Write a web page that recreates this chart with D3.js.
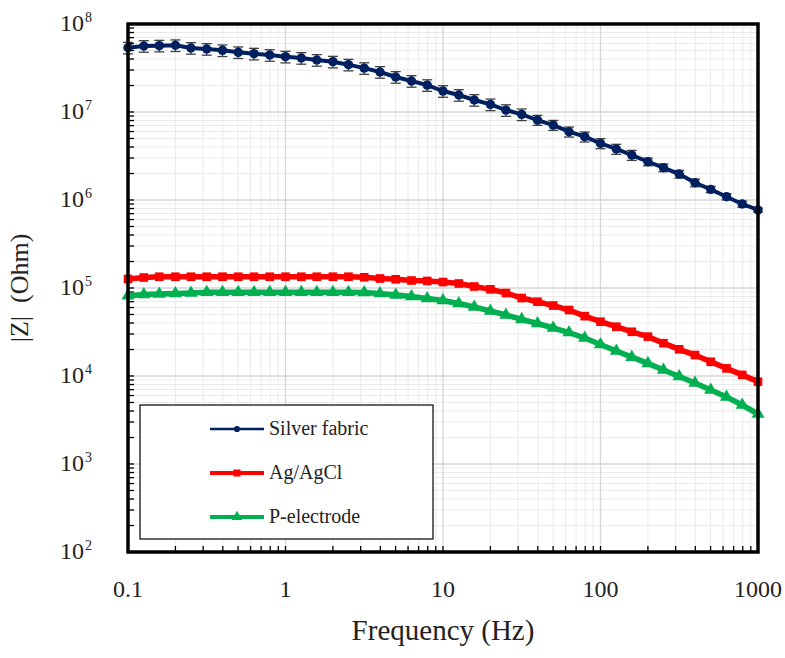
<!DOCTYPE html>
<html><head><meta charset="utf-8">
<script src="https://cdn.jsdelivr.net/npm/d3@7"></script>
<style>body{margin:0;background:#fff}svg{display:block}
svg text{font-family:"Liberation Serif","Times New Roman",serif;}
</style>
</head><body><svg id="c" width="785" height="658"></svg>
<script>
const freqs = [0.1,0.126,0.158,0.2,0.251,0.316,0.398,0.501,0.631,0.794,
  1,1.26,1.58,2,2.51,3.16,3.98,5.01,6.31,7.94,
  10,12.6,15.8,20,25.1,31.6,39.8,50.1,63.1,79.4,
  100,126,158,200,251,316,398,501,631,794,1000];
const silverFabric = [5.38e7,5.62e7,5.67e7,5.73e7,5.34e7,5.20e7,5.02e7,4.77e7,4.60e7,4.44e7,
  4.25e7,4.11e7,3.90e7,3.73e7,3.45e7,3.15e7,2.85e7,2.50e7,2.25e7,2.02e7,
  1.73e7,1.56e7,1.37e7,1.22e7,1.05e7,9.4e6,8.1e6,7.1e6,5.97e6,5.24e6,
  4.40e6,3.80e6,3.24e6,2.72e6,2.33e6,1.97e6,1.57e6,1.32e6,1.09e6,9.0e5,7.7e5];
const silverErrPct = [15,15,15,15,15,15,15,15,15,15,
  15,15,15,15,15,15,15,15,15,15,
  15,15,15,15,15,15,13,13,13,13,
  13,13,13,10,10,10,10,8,8,8,5];
const agAgCl = [1.265e5,1.315e5,1.343e5,1.343e5,1.343e5,1.343e5,1.343e5,1.343e5,1.343e5,1.343e5,
  1.343e5,1.343e5,1.343e5,1.343e5,1.343e5,1.324e5,1.282e5,1.256e5,1.216e5,1.202e5,
  1.169e5,1.125e5,1.040e5,9.66e4,8.77e4,7.69e4,6.98e4,6.32e4,5.62e4,4.79e4,
  4.14e4,3.63e4,3.18e4,2.80e4,2.36e4,2.01e4,1.73e4,1.45e4,1.22e4,1.03e4,8.61e3];
const pElectrode = [8.17e4,8.43e4,8.55e4,8.66e4,8.77e4,8.93e4,8.93e4,8.93e4,8.93e4,8.93e4,
  8.93e4,8.93e4,8.93e4,8.93e4,8.95e4,8.89e4,8.66e4,8.32e4,8.0e4,7.6e4,
  7.21e4,6.67e4,6.08e4,5.48e4,4.93e4,4.39e4,3.95e4,3.51e4,3.12e4,2.70e4,
  2.28e4,1.92e4,1.64e4,1.39e4,1.17e4,9.86e3,8.32e3,6.93e3,5.77e3,4.68e3,3.70e3];
const xTickLabels = ["0.1","1","10","100","1000"];
const xTickValues = [0.1,1,10,100,1000];
const yExponents = [2,3,4,5,6,7,8];
const seriesNames = ["Silver fabric","Ag/AgCl","P-electrode"];
const seriesColors = ["#002060","#ff0000","#00b050"];

const svg = d3.select("#c");
const L=128,R=758,T=24,B=552;
const x = d3.scaleLog().domain([0.1,1000]).range([L,R]);
const y = d3.scaleLog().domain([100,1e8]).range([B,T]);

// grid
const minorX=[], majorX=[];
for (let e=-1;e<3;e++) for (let k=1;k<10;k++){ const v=k*Math.pow(10,e); (k===1?majorX:minorX).push(v);} 
majorX.push(1000);
const minorY=[], majorY=[];
for (let e=2;e<8;e++) for (let k=1;k<10;k++){ const v=k*Math.pow(10,e); (k===1?majorY:minorY).push(v);} 
majorY.push(1e8);
const g = svg.append("g");
g.selectAll(".mx").data(minorX).enter().append("line").attr("x1",d=>x(d)).attr("x2",d=>x(d)).attr("y1",T).attr("y2",B).attr("stroke","#ebebeb").attr("stroke-width",1);
g.selectAll(".my").data(minorY).enter().append("line").attr("y1",d=>y(d)).attr("y2",d=>y(d)).attr("x1",L).attr("x2",R).attr("stroke","#ebebeb").attr("stroke-width",1);
g.selectAll(".Mx").data(majorX).enter().append("line").attr("x1",d=>x(d)).attr("x2",d=>x(d)).attr("y1",T).attr("y2",B).attr("stroke","#d6d6d6").attr("stroke-width",1.3);
g.selectAll(".My").data(majorY).enter().append("line").attr("y1",d=>y(d)).attr("y2",d=>y(d)).attr("x1",L).attr("x2",R).attr("stroke","#d6d6d6").attr("stroke-width",1.3);

// ticks (inward)
g.selectAll(".tx").data(minorX.concat(majorX)).enter().append("line").attr("x1",d=>x(d)).attr("x2",d=>x(d)).attr("y1",B).attr("y2",B-6).attr("stroke","#000").attr("stroke-width",1.3);
g.selectAll(".ty").data(minorY.concat(majorY)).enter().append("line").attr("y1",d=>y(d)).attr("y2",d=>y(d)).attr("x1",L).attr("x2",L+6).attr("stroke","#000").attr("stroke-width",1.3);

// error bars for silver fabric
const eb = svg.append("g").attr("stroke","#404040").attr("stroke-width",1.3);
freqs.forEach((f,i)=>{
  const v=silverFabric[i], e=v*silverErrPct[i]/100;
  const xx=x(f), y1=y(v+e), y2=y(v-e);
  eb.append("line").attr("x1",xx).attr("x2",xx).attr("y1",y1).attr("y2",y2);
  eb.append("line").attr("x1",xx-5).attr("x2",xx+5).attr("y1",y1).attr("y2",y1);
  eb.append("line").attr("x1",xx-5).attr("x2",xx+5).attr("y1",y2).attr("y2",y2);
});

const allSeries=[silverFabric,agAgCl,pElectrode];
const line = d3.line().x((d,i)=>x(freqs[i])).y(d=>y(d));
const widths=[4,5.5,5.5];
allSeries.forEach((s,k)=>{
  svg.append("path").datum(s).attr("d",line).attr("fill","none").attr("stroke",seriesColors[k]).attr("stroke-width",widths[k]);
});
const symbols=[d3.symbolCircle,d3.symbolSquare,d3.symbolTriangle];
const sizes=[70,75,75];
allSeries.forEach((s,k)=>{
  svg.append("g").selectAll("path").data(s).enter().append("path")
    .attr("d",d3.symbol().type(symbols[k]).size(sizes[k]))
    .attr("transform",(d,i)=>`translate(${x(freqs[i])},${y(d)})`)
    .attr("fill",seriesColors[k]);
});

// frame
svg.append("rect").attr("x",L).attr("y",T).attr("width",R-L).attr("height",B-T).attr("fill","none").attr("stroke","#000").attr("stroke-width",3.5);

// x tick labels
svg.append("g").selectAll("text").data(xTickValues).enter().append("text")
  .attr("x",d=>x(d)).attr("y",597).attr("text-anchor","middle")
  .attr("font-size",24).attr("fill","#222")
  .text((d,i)=>xTickLabels[i]);
// y tick labels
const yl = svg.append("g");
yExponents.forEach(e=>{
  const yy=y(Math.pow(10,e));
  yl.append("text").attr("x",84).attr("y",yy+7).attr("text-anchor","end").attr("font-size",24).attr("fill","#222").text("10");
  yl.append("text").attr("x",85).attr("y",yy-2).attr("font-size",14).attr("fill","#222").text(e);
});
// axis titles
svg.append("text").attr("x",(L+R)/2).attr("y",640).attr("text-anchor","middle").attr("font-size",29).attr("fill","#222").text("Frequency (Hz)");
svg.append("text").attr("transform",`translate(28,${(T+B)/2}) rotate(-90)`).attr("text-anchor","middle").attr("font-size",26).attr("fill","#222").style("white-space","pre").text("|Z|  (Ohm)");

// legend
const lg = svg.append("g");
lg.append("rect").attr("x",140).attr("y",405).attr("width",293).attr("height",134).attr("fill","#fff").attr("stroke","#000").attr("stroke-width",1.2);
const lw=[2.5,4,4], ls=[30,50,50];
seriesNames.forEach((n,k)=>{
  const yy=429+k*44;
  lg.append("line").attr("x1",210).attr("x2",264).attr("y1",yy).attr("y2",yy).attr("stroke",seriesColors[k]).attr("stroke-width",lw[k]);
  lg.append("path").attr("d",d3.symbol().type(symbols[k]).size(ls[k])).attr("transform",`translate(237,${yy})`).attr("fill",seriesColors[k]);
  lg.append("text").attr("x",269).attr("y",yy+6).attr("font-size",20).attr("fill","#222").text(n);
});
</script></body></html>
